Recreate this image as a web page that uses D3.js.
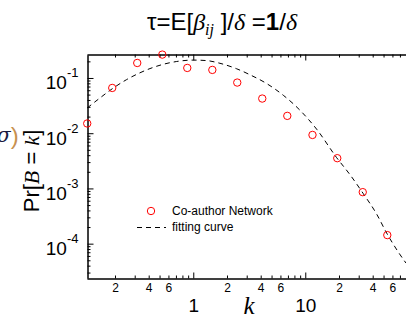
<!DOCTYPE html>
<html>
<head>
<meta charset="utf-8">
<script src="https://cdn.jsdelivr.net/npm/d3@7/dist/d3.min.js"></script>
<style>
  body { margin: 0; background: #fff; }
  svg { display: block; }
  text { font-family: "Liberation Sans", Arial, sans-serif; fill: #000; }
</style>
</head>
<body>
<svg id="chart" width="406" height="320"></svg>
<script>
// observed points (Co-author Network)
const kValues = [0.113, 0.189, 0.316, 0.529, 0.884, 1.48, 2.47, 4.13, 6.91, 11.6, 19.3, 32.6, 54.0];
const prValues = [0.0150, 0.066, 0.187, 0.265, 0.152, 0.140, 0.0826, 0.0424, 0.0206, 0.0093, 0.00353, 0.000857, 0.000143];

// fitting curve
const fitK = [0.1131, 0.1469, 0.1891, 0.2543, 0.3228, 0.4106, 0.5397, 0.7109, 1, 1.317, 1.731, 2.441, 3.208, 4.522, 6.362, 8.967, 12.64, 19.07, 25.07, 32.95, 43.40, 53.32, 67.69, 79.26];
const fitPr = [0.02868, 0.04347, 0.06378, 0.09357, 0.1201, 0.1479, 0.1769, 0.1988, 0.2107, 0.2063, 0.1844, 0.1467, 0.1143, 0.0792, 0.04866, 0.02605, 0.01181, 0.003606, 0.001776, 0.000805, 0.000343, 0.0001555, 0.0000705, 0.0000446];

const xMajorTicks = [1, 10];
const xMinorTicks = [0.2, 0.3, 0.4, 0.5, 0.6, 0.7, 0.8, 0.9, 2, 3, 4, 5, 6, 7, 8, 9, 20, 30, 40, 50, 60, 70, 80, 90];
const xMinorLabelled = [0.2, 0.4, 0.6, 2, 4, 6, 20, 40, 60];
const yMajorTicks = [1e-4, 1e-3, 1e-2, 1e-1];
const yExponents = ["-4", "-3", "-2", "-1"];
const yMinorTicks = [3e-5, 4e-5, 5e-5, 6e-5, 7e-5, 8e-5, 9e-5,
  2e-4, 3e-4, 4e-4, 5e-4, 6e-4, 7e-4, 8e-4, 9e-4,
  2e-3, 3e-3, 4e-3, 5e-3, 6e-3, 7e-3, 8e-3, 9e-3,
  2e-2, 3e-2, 4e-2, 5e-2, 6e-2, 7e-2, 8e-2, 9e-2, 0.2];

const svg = d3.select("#chart");
const plotLeft = 87, plotTop = 55, plotBottom = 278, decadeX = 112;
const mathFont = "'Liberation Serif', 'DejaVu Serif', serif";

const x = d3.scaleLog().domain([0.1125, 100]).range([plotLeft, plotLeft + decadeX * Math.log10(100 / 0.1125)]);
const y = d3.scaleLog().domain([2.39e-5, 0.2606]).range([plotBottom, plotTop]);

// title
const title = svg.append("text").attr("x", 222).attr("y", 30)
  .attr("text-anchor", "middle").style("font-size", "24px");
title.append("tspan").text("τ=E[");
title.append("tspan").style("font-family", mathFont).style("font-style", "italic").text("β");
title.append("tspan").style("font-family", mathFont).style("font-style", "italic")
  .style("font-size", "16px").attr("dy", 5).text("ij");
title.append("tspan").attr("dy", -5).text(" ]/");
title.append("tspan").style("font-family", mathFont).style("font-style", "italic").text("δ");
title.append("tspan").text(" =");
title.append("tspan").style("font-weight", "bold").text("1");
title.append("tspan").text("/");
title.append("tspan").style("font-family", mathFont).style("font-style", "italic").text("δ");

// axes
const styleAxis = g => {
  g.select(".domain").attr("stroke", "#000").attr("stroke-width", 1);
  g.selectAll(".tick line").attr("stroke", "#000");
};

svg.append("g").attr("transform", `translate(0,${plotBottom + 0.5})`)
  .call(d3.axisBottom(x).tickValues(xMinorTicks).tickSize(-3).tickSizeOuter(0).tickPadding(5)
    .tickFormat(d => xMinorLabelled.includes(d) ? String(Math.round(d / Math.pow(10, Math.floor(Math.log10(d) + 1e-9)))) : ""))
  .call(styleAxis)
  .call(g => g.selectAll("text").style("font-size", "12px").attr("font-family", null));

svg.append("g").attr("transform", `translate(0,${plotBottom + 0.5})`)
  .call(d3.axisBottom(x).tickValues(xMajorTicks).tickSize(-6).tickSizeOuter(0).tickPadding(20).tickFormat(d3.format("d")))
  .call(styleAxis)
  .call(g => g.selectAll("text").style("font-size", "19px").attr("font-family", null));

svg.append("g").attr("transform", `translate(0,${plotTop - 0.5})`)
  .call(d3.axisTop(x).tickValues(xMinorTicks).tickSize(-3).tickSizeOuter(0).tickFormat(""))
  .call(styleAxis);
svg.append("g").attr("transform", `translate(0,${plotTop - 0.5})`)
  .call(d3.axisTop(x).tickValues(xMajorTicks).tickSize(-6).tickSizeOuter(0).tickFormat(""))
  .call(styleAxis);

svg.append("g").attr("transform", `translate(${plotLeft + 0.5},0)`)
  .call(d3.axisLeft(y).tickValues(yMinorTicks).tickSize(-3).tickSizeOuter(0).tickFormat(""))
  .call(styleAxis);
const yAxis = svg.append("g").attr("transform", `translate(${plotLeft + 0.5},0)`)
  .call(d3.axisLeft(y).tickValues(yMajorTicks).tickSize(-6).tickSizeOuter(0).tickPadding(9).tickFormat(""))
  .call(styleAxis);
yAxis.selectAll(".tick text").attr("font-family", null).attr("dy", "11px").each(function (d, i) {
  const t = d3.select(this);
  t.append("tspan").style("font-size", "19px").text("10");
  t.append("tspan").style("font-size", "13px").attr("dy", -12).text(yExponents[i]);
});

// y label
const yl = svg.append("text").attr("transform", "translate(39,171) rotate(-90)")
  .attr("text-anchor", "middle").style("font-size", "22px");
yl.append("tspan").text("Pr[");
yl.append("tspan").style("font-family", mathFont).style("font-style", "italic").text("B");
yl.append("tspan").text(" = ");
yl.append("tspan").style("font-family", mathFont).style("font-style", "italic").text("k");
yl.append("tspan").text("]");

// x label
svg.append("text").attr("x", 249).attr("y", 314).attr("text-anchor", "middle")
  .style("font-family", mathFont).style("font-style", "italic")
  .style("font-size", "25px").text("k");

// cut-off neighbour label
const cut = svg.append("text").attr("x", -3).attr("y", 142).style("font-size", "20px");
cut.append("tspan").style("font-family", "'DejaVu Serif', serif").style("font-style", "italic").style("fill", "#1a1a40").text("σ");
cut.append("tspan").style("fill", "#c8914f").style("font-size", "24px").attr("dy", 2).text(")");

// fitting curve
const fitData = fitK.map((k, i) => ({ k: k, p: fitPr[i] }));
const line = d3.line().x(d => x(d.k)).y(d => y(d.p)).curve(d3.curveMonotoneX);
svg.append("path").datum(fitData).attr("d", line)
  .attr("fill", "none").attr("stroke", "#000").attr("stroke-width", 1).attr("stroke-dasharray", "5,4");

// points
svg.selectAll(".pt").data(kValues).enter().append("circle").attr("class", "pt")
  .attr("cx", d => x(d)).attr("cy", (d, i) => y(prValues[i])).attr("r", 3.7)
  .attr("fill", "none").attr("stroke", "#ff0000").attr("stroke-width", 1);

// legend
const lg = svg.append("g");
lg.append("circle").attr("cx", 151).attr("cy", 211).attr("r", 3.7)
  .attr("fill", "none").attr("stroke", "#ff0000").attr("stroke-width", 1);
lg.append("text").attr("x", 172).attr("y", 215).style("font-size", "12px").text("Co-author Network");
lg.append("line").attr("x1", 137).attr("x2", 166).attr("y1", 227.5).attr("y2", 227.5)
  .attr("stroke", "#000").attr("stroke-dasharray", "5,4");
lg.append("text").attr("x", 172).attr("y", 231).style("font-size", "12px").text("fitting curve");
</script>
</body>
</html>
